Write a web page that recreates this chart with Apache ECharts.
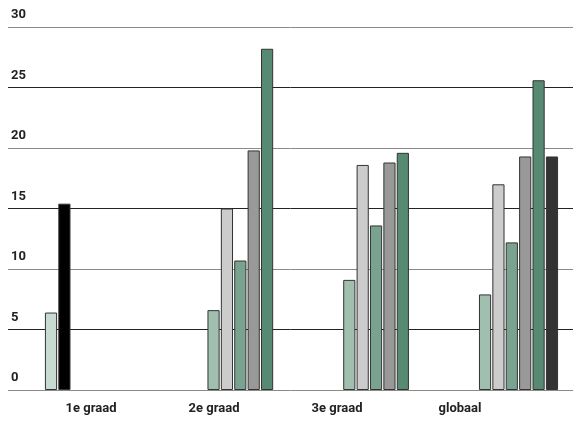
<!DOCTYPE html>
<html>
<head>
<meta charset="utf-8">
<script src="https://cdn.jsdelivr.net/npm/echarts@6/dist/echarts.min.js"></script>
<style>html,body{margin:0;padding:0;background:#fff}#c{width:573px;height:421px}</style>
</head>
<body>
<div id="c"></div>
<script>
const categories = ['1e graad', '2e graad', '3e graad', 'globaal'];
const yTicks = [0, 5, 10, 15, 20, 25, 30];
const s1 = [6.4, null, null, null];
const s2 = [15.4, null, null, null];
const s3 = [null, 6.6, 9.1, 7.9];
const s4 = [null, 15.0, 18.6, 17.0];
const s5 = [null, 10.7, 13.6, 12.2];
const s6 = [null, 19.8, 18.8, 19.3];
const s7 = [null, 28.2, 19.6, 25.6];
const s8 = [null, null, null, 19.3];
const seriesData = [s1, s2, s3, s4, s5, s6, s7, s8];
const colors = ['#c8dbd2', '#000000', '#a1bfae', '#cccccc', '#79a38e', '#999999', '#568a72', '#333333'];

const chart = echarts.init(document.getElementById('c'), null, {renderer: 'canvas'});
const font = 'Roboto';
chart.setOption({
  animation: false,
  backgroundColor: '#fff',
  grid: [
    {left: 30, right: -1, top: 27, bottom: 31},
    {left: 8, right: 0, top: 27, bottom: 31},
    {left: 29.5, right: 51.5, top: 27, bottom: 31}
  ],
  xAxis: [
    {type: 'category', gridIndex: 0, data: categories, axisLine: {show: false}, axisTick: {show: false}, axisLabel: {show: false}},
    {type: 'value', gridIndex: 1, show: false, min: 0, max: 1},
    {type: 'category', gridIndex: 2, data: categories, axisLine: {show: false}, axisTick: {show: false},
      axisLabel: {margin: 12, color: '#222', fontFamily: font, fontWeight: 'bold', fontSize: 13}}
  ],
  yAxis: [
    {type: 'value', gridIndex: 0, min: yTicks[0], max: yTicks[yTicks.length - 1], interval: 5, show: false},
    {type: 'value', gridIndex: 1, min: yTicks[0], max: yTicks[yTicks.length - 1], interval: 5,
      axisLine: {show: false}, axisTick: {show: false},
      splitLine: {show: true, lineStyle: {color: ['#8a8a8a', '#222222'], width: 1}},
      axisLabel: {inside: true, margin: 3, color: '#222', fontFamily: font, fontWeight: 'bold', fontSize: 13,
        verticalAlign: 'bottom', lineHeight: 14, padding: [0, 0, 5, 0], align: 'left'}},
    {type: 'value', gridIndex: 2, min: 0, max: 30, show: false}
  ],
  series: seriesData.map((d, i) => ({
    type: 'bar',
    xAxisIndex: 0, yAxisIndex: 0,
    data: d,
    barGap: '10%',
    barCategoryGap: '22%',
    itemStyle: {color: colors[i], borderColor: '#333', borderWidth: 1}
  }))
});
</script>
</body>
</html>
